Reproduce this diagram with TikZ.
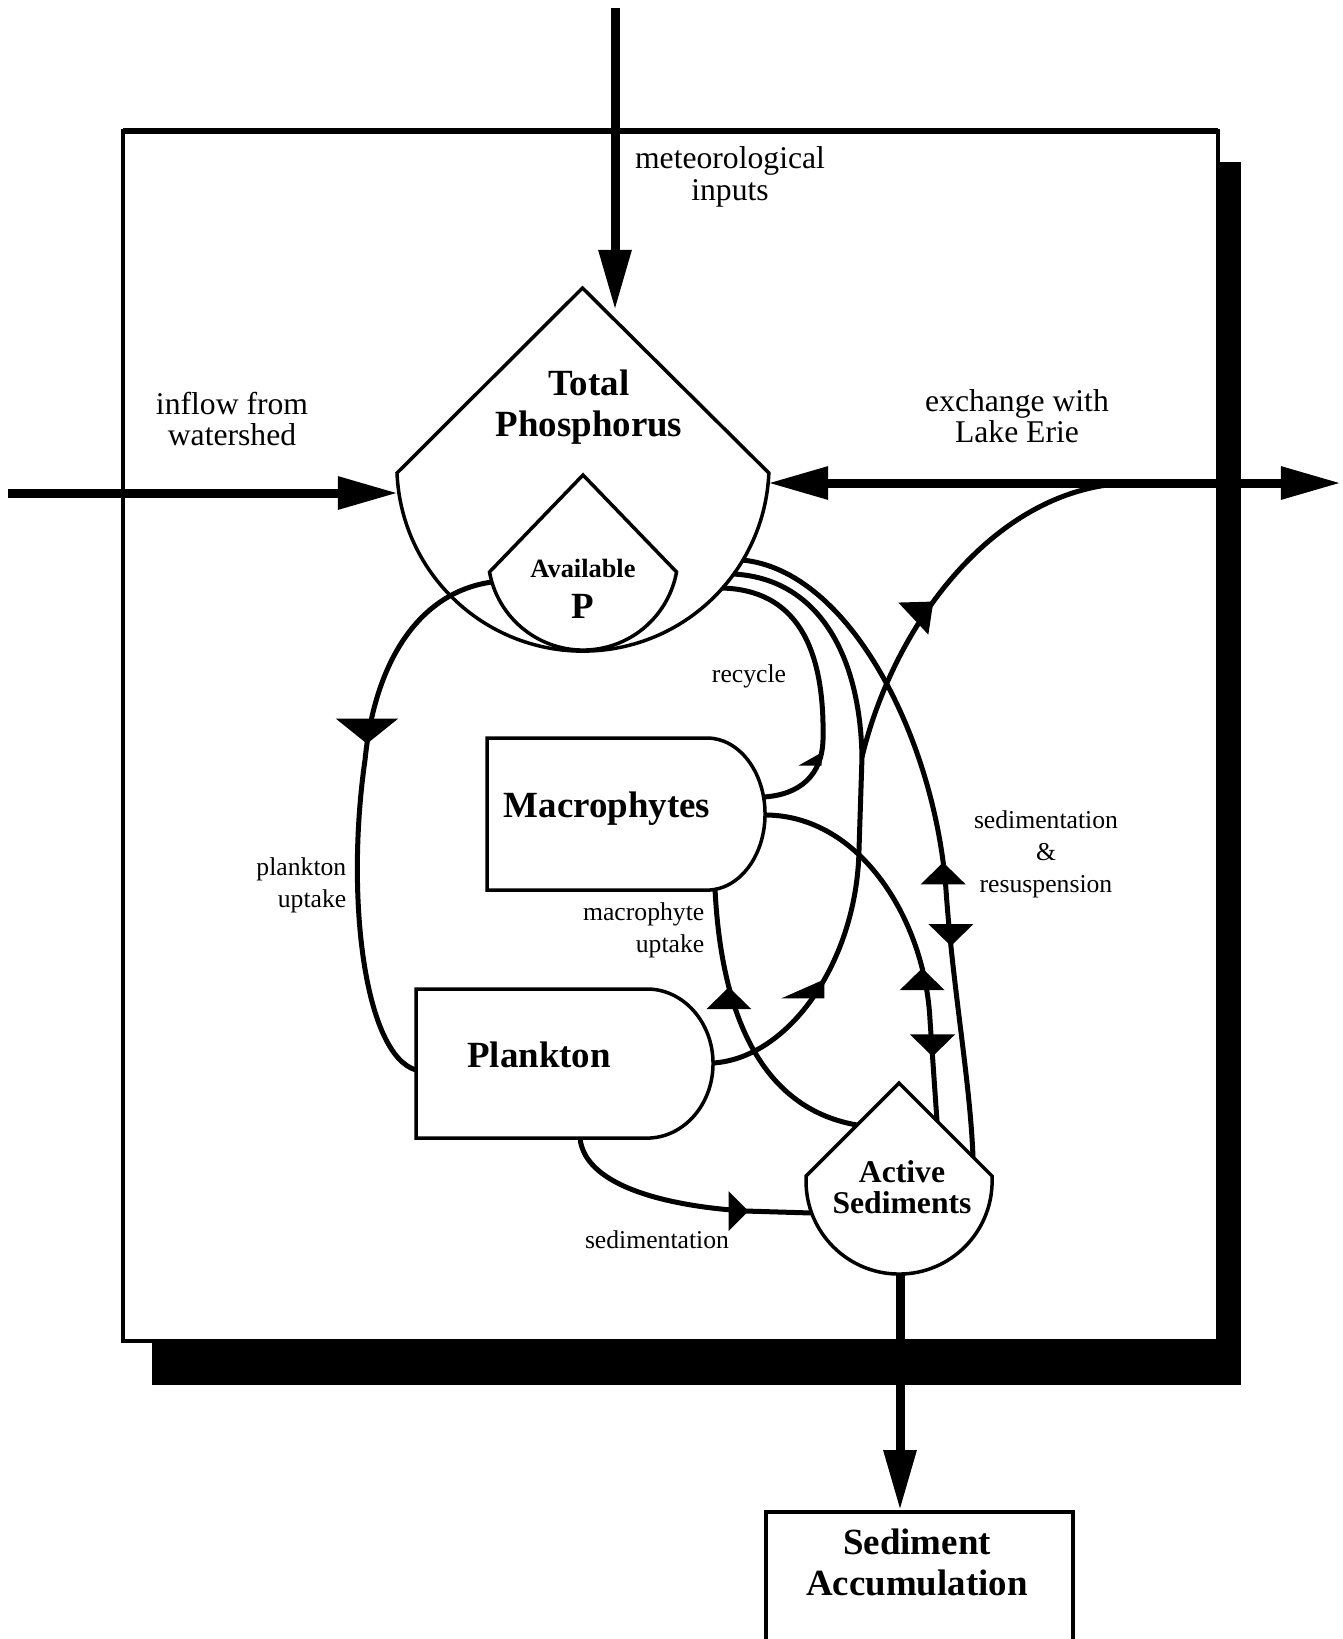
\documentclass[tikz,border=0pt]{standalone}
\usepackage{fontspec}
\setmainfont{Liberation Serif}
\usetikzlibrary{arrows.meta,decorations.markings}
\tikzset{
  bigtip/.tip={Triangle[length=6mm,width=3.1mm]},
  midhead/.style 2 args={postaction={decorate,decoration={markings,mark=at position #1 with {\pgftransformresetnontranslations\fill #2;}}}},
  headdown/.style={midhead={#1}{(0,0) -- (-2.25mm,2.2mm) -- (2.25mm,2.2mm) -- cycle}},
  headup/.style={midhead={#1}{(0,0) -- (-2.25mm,-2.2mm) -- (2.25mm,-2.2mm) -- cycle}},
  headright/.style={midhead={#1}{(0,0) -- (-2mm,2mm) -- (-2mm,-2mm) -- cycle}},
  headne/.style={midhead={#1}{(0,0) -- (-3.5mm,-0.1mm) -- (-0.5mm,-3.3mm) -- cycle}},
  harpup/.style={midhead={#1}{(0,0) -- (-2.3mm,-1.3mm) -- (0,-1.3mm) -- cycle}},
  harpne/.style={midhead={#1}{(0,0) -- (-4.3mm,-1.9mm) -- (0,-1.9mm) -- cycle}},
  wideheaddown/.style={midhead={#1}{(0,0) -- (-3.1mm,2.5mm) -- (3.1mm,2.5mm) -- cycle}}
}
\begin{document}
\begin{tikzpicture}[x=0.01cm,y=-0.01cm,
  big/.style={font=\fontsize{10.5}{11.7}\selectfont\bfseries,align=center,inner sep=0pt},
  sedfont/.style={font=\fontsize{9}{9}\selectfont\bfseries,align=center,inner sep=0pt},
  mid/.style={font=\fontsize{9}{8.9}\selectfont,align=center,inner sep=0pt},
  small/.style={font=\fontsize{7.3}{9.1}\selectfont,inner sep=0pt},
  outline/.style={line width=0.35mm,line join=miter},
  flow/.style={line width=0.5mm},
  bigflow/.style={line width=0.9mm}
]
\useasboundingbox (0,0) rectangle (1343,1639);
\fill (152,162) rectangle (1241,1385);
\draw[line width=0.4mm,fill=white] (123,131) rectangle (1218,1341);
\draw[line width=0.65mm] (123,131) -- (1218,131);

\draw[outline] (582.5,288) -- (397,473) arc[start angle=182.46,end angle=357.54,radius=1.86cm] -- cycle;
\draw[outline] (583,475) -- (489.5,572) arc[start angle=190.3,end angle=349.7,radius=0.95cm] -- cycle;
\draw[outline] (487,738) -- (707,738) arc[start angle=90,end angle=-90,x radius=0.58cm,y radius=0.76cm] -- (487,890) -- cycle;
\draw[outline] (416,989) -- (647,989) arc[start angle=90,end angle=-90,x radius=0.66cm,y radius=0.745cm] -- (416,1138) -- cycle;
\draw[outline] (899,1083) -- (806,1176) -- (806,1181) arc[start angle=180,end angle=360,radius=0.93cm] -- (992,1176) -- cycle;
\node[draw,line width=0.35mm,minimum width=3.07cm,minimum height=1.4cm] (sedacc) at (919.5,1582) {};

\node[big] (tp) at (589,407) {Total\\Phosphorus};
\node[big] (avp) at (583,589) {{\fontsize{7.5}{9}\selectfont Available}\\P};
\node[big,anchor=base] (mac) at (607,817) {Macrophytes};
\node[big,anchor=base] (pl) at (539,1067) {Plankton};
\node[sedfont] (as) at (902,1187) {Active\\Sediments};
\node[big] (sedacc-txt) at (917,1562) {Sediment\\Accumulation};

\node[mid] (lbl-met) at (730,177) {meteorological\\inputs};
\node[mid] (lbl-in) at (232,419) {inflow from\\watershed};
\node[mid] (lbl-erie) at (1017,416) {exchange with\\Lake Erie};
\node[small,anchor=base] (lbl-rec) at (749,682) {recycle};
\node[small,align=right,anchor=north east] (lbl-pu) at (347,857) {plankton\\uptake};
\node[small,align=right,anchor=north east] (lbl-mu) at (705,902) {macrophyte\\uptake};
\node[small,anchor=base] (lbl-sed) at (657,1248) {sedimentation};
\node[small,align=center,anchor=north] (lbl-sr) at (1046,810) {sedimentation\\\&\\resuspension};

\coordinate (tp-n) at (615,310);
\coordinate (tp-w) at (398,493);
\coordinate (tp-e) at (768,483);
\coordinate (tp-se1) at (742,560);
\coordinate (tp-se2) at (733,574);
\coordinate (tp-se3) at (722,588);
\coordinate (avp-w) at (492,582);
\coordinate (mac-e1) at (763,797);
\coordinate (mac-e2) at (765,815);
\coordinate (mac-s) at (715,889);
\coordinate (pl-w) at (416,1070);
\coordinate (pl-e) at (713,1063);
\coordinate (pl-s) at (580,1138);
\coordinate (as-nw) at (857,1125);
\coordinate (as-ne1) at (937,1121);
\coordinate (as-ne2) at (973,1157);
\coordinate (as-w) at (812,1213);
\coordinate (as-s) at (900,1274);
\coordinate (met) at (615,8);
\coordinate (inflow) at (8,493);
\coordinate (erie) at (1341,483);
\coordinate (join) at (1135,483);
\coordinate (fork) at (862,757);

\draw[bigflow,-bigtip] (met) -- (tp-n);
\draw[bigflow,-bigtip] (inflow) -- (tp-w);
\draw[bigflow,bigtip-bigtip] (tp-e) -- (erie);
\draw[bigflow,-bigtip] (as-s) -- (as-s |- sedacc.north);
\draw[flow,wideheaddown=2.2cm] (avp-w) .. controls (420,592) and (375,660) .. (365,760) .. controls (345,900) and (365,1055) .. (pl-w);
\draw[flow,harpup=0.8cm] (mac-e1) .. controls (800,795) and (822,775) .. (823,740) .. controls (825,645) and (795,590) .. (tp-se3);
\draw[flow,harpne=1.45cm] (pl-e) .. controls (790,1058) and (857,960) .. (859,850) -- (fork);
\draw[flow] (fork) .. controls (860,650) and (815,578) .. (tp-se2);
\draw[flow,headne=1.72cm] (fork) .. controls (895,620) and (1000,483) .. (join);
\draw[flow,headup=3.86cm,headdown=4.7cm] (tp-se1) .. controls (850,570) and (935,740) .. (946,890) .. controls (953,990) and (970,1080) .. (as-ne2);
\draw[flow,headup=2.36cm,headdown=3.25cm] (mac-e2) .. controls (860,815) and (925,920) .. (930,1020) -- (as-ne1);
\draw[flow,headup=2cm] (as-nw) .. controls (770,1110) and (722,1030) .. (mac-s);
\draw[flow,headright=1.96cm] (pl-s) .. controls (585,1190) and (680,1207) .. (745,1211) -- (as-w);
\end{tikzpicture}
\end{document}
